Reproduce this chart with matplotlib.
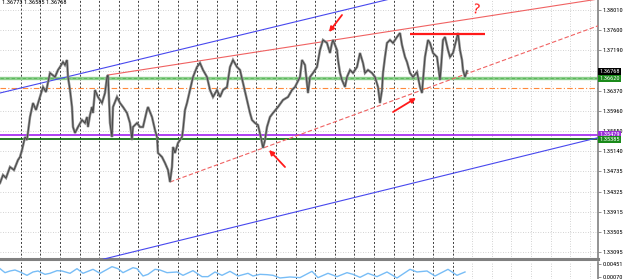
import matplotlib
matplotlib.use("Agg")
import matplotlib.pyplot as plt
import matplotlib.transforms as mtransforms
from matplotlib import font_manager

# ---------------- data ----------------
header_text = "1.36773 1.36585 1.36768"

bar_x = [0, 3, 6, 10, 14, 18, 20, 22, 25, 27, 30, 33, 36, 40, 43, 46, 50, 55, 58, 60,
         63, 65, 67, 68, 70, 72, 73, 75, 78, 82, 85, 87, 88, 90, 92, 93, 95, 98, 102, 105,
         107, 108, 110, 112, 113, 117, 120, 123, 127, 130, 132, 133, 137, 140, 143, 147, 148, 152, 155, 157,
         158, 162, 165, 168, 170, 172, 173, 175, 178, 182, 183, 185, 187, 190, 193, 197, 200, 203, 207, 210,
         213, 217, 220, 223, 227, 230, 233, 237, 240, 243, 247, 250, 252, 255, 258, 261, 263, 265, 267, 270,
         273, 278, 283, 288, 292, 295, 300, 302, 305, 308, 310, 313, 317, 320, 323, 327, 330, 332, 333, 337,
         338, 340, 342, 345, 347, 350, 353, 357, 360, 363, 365, 368, 372, 375, 378, 380, 382, 383, 385, 387,
         390, 393, 397, 400, 402, 405, 407, 410, 413, 417, 420, 422, 423, 425, 428, 430, 433, 437, 440, 441,
         443, 445, 448, 450, 453, 457, 458, 460, 462, 463, 465, 467]
close = [1.34498, 1.34660, 1.34600, 1.34823, 1.34762, 1.34965, 1.35026, 1.35168, 1.35432, 1.35371,
         1.35838, 1.36122, 1.35980, 1.36244, 1.36447, 1.36345, 1.36731, 1.36650, 1.36792, 1.36853,
         1.36954, 1.36893, 1.36995, 1.36650, 1.36386, 1.36041, 1.35635, 1.35513, 1.35635, 1.35777,
         1.35716, 1.35838, 1.35635, 1.35878, 1.36041, 1.35919, 1.36386, 1.36244, 1.36122, 1.36325,
         1.36650, 1.36690, 1.35716, 1.35432, 1.36041, 1.36244, 1.36122, 1.36041, 1.35919, 1.35716,
         1.35371, 1.35635, 1.35716, 1.35635, 1.35635, 1.35980, 1.36041, 1.35838, 1.35574, 1.35432,
         1.35107, 1.35026, 1.34904, 1.34762, 1.34518, 1.34823, 1.35229, 1.35107, 1.35310, 1.35432,
         1.35574, 1.35980, 1.36122, 1.36386, 1.36650, 1.36853, 1.36934, 1.36792, 1.36650, 1.36386,
         1.36244, 1.36386, 1.36244, 1.36386, 1.36447, 1.36853, 1.36995, 1.36853, 1.36792, 1.36528,
         1.36183, 1.35919, 1.35777, 1.35716, 1.35675, 1.35412, 1.35209, 1.35371, 1.35635, 1.35838,
         1.35919, 1.36041, 1.36183, 1.36244, 1.36386, 1.36447, 1.36650, 1.36995, 1.36893, 1.36325,
         1.36650, 1.36731, 1.36853, 1.37198, 1.37401, 1.37340, 1.37137, 1.37340, 1.37401, 1.37198,
         1.36995, 1.36731, 1.36589, 1.36447, 1.36650, 1.36792, 1.36731, 1.36853, 1.37137, 1.36934,
         1.36731, 1.36792, 1.36731, 1.36650, 1.36447, 1.36122, 1.36386, 1.36731, 1.37056, 1.37340,
         1.37401, 1.37340, 1.37462, 1.37543, 1.37299, 1.37056, 1.36954, 1.36731, 1.36650, 1.36751,
         1.36447, 1.36325, 1.36589, 1.37056, 1.37401, 1.37340, 1.37137, 1.37056, 1.36589, 1.36833,
         1.37401, 1.37462, 1.37198, 1.37056, 1.37137, 1.37462, 1.37543, 1.37198, 1.36995, 1.36792,
         1.36650, 1.36768]

ind_x = [0, 5, 10, 15, 20, 27, 33, 38, 45, 50, 57, 62, 70, 77, 83, 93, 100, 112, 118, 123,
         133, 137, 143, 148, 155, 160, 167, 177, 183, 193, 202, 208, 215, 222, 230, 238, 248, 253, 260, 267,
         273, 280, 290, 300, 312, 318, 328, 337, 347, 353, 360, 368, 377, 387, 397, 410, 417, 427, 435, 448,
         457, 465]
ind_val = [0.00314, 0.00197, 0.00246, 0.00275, 0.00217, 0.00119, 0.00217, 0.00246, 0.00148, 0.00178,
           0.00256, 0.00246, 0.00178, 0.00314, 0.00178, 0.00295, 0.00178, 0.00373, 0.00314, 0.00197,
           0.00343, 0.00314, 0.00099, 0.00148, 0.00295, 0.00275, 0.00197, 0.00217, 0.00119, 0.00256,
           0.00080, 0.00080, 0.00217, 0.00119, 0.00236, 0.00099, 0.00178, 0.00099, 0.00148, 0.00138,
           0.00119, 0.00041, 0.00070, 0.00051, 0.00236, 0.00051, 0.00178, 0.00080, 0.00197, 0.00148,
           0.00060, 0.00178, 0.00080, 0.00217, 0.00041, 0.00295, 0.00217, 0.00246, 0.00099, 0.00295,
           0.00119, 0.00217]

price_ticks = [1.38010, 1.37600, 1.37190, 1.36780, 1.36370, 1.35960, 1.35550, 1.35140,
               1.34735, 1.34325, 1.33915, 1.33505, 1.33095]
price_tick_labels = ["1.38010", "1.37600", "1.37190", "", "1.36370", "1.35960", "1.35550",
                     "1.35140", "1.34735", "1.34325", "1.33915", "1.33505", "1.33095"]
ind_ticks = [0.00451, 0.00070]
ind_tick_labels = ["0.00451", "0.00070"]

# trend lines: (x0, p0, x1, p1)
upper_red = (108, 1.36690, 598, 1.38232)
lower_red = (170, 1.34518, 598, 1.37689)
upper_blue = (0, 1.36325, 400, 1.38282)
lower_blue = (100, 1.32935, 598, 1.35418)

# horizontal levels
level_green_band = 1.36620
level_orange = 1.36427
level_purple = 1.35479
level_darkgreen = 1.35385
last_price = 1.36768
red_mark_level = 1.37523
red_mark_x = (410, 485)

# boxed price labels: (price, text, facecolor)
boxes = [(last_price, "1.36768", "#000000"),
         (level_green_band, "1.36620", "#1a8a1a"),
         (level_purple, "1.35479", "#9b30d8"),
         (level_darkgreen, "1.35385", "#1a8a1a")]

# ---------------- font ----------------
narrow = "DejaVu Sans"
for cand in ["Liberation Sans Narrow", "Roboto Condensed", "Open Sans Condensed", "Liberation Sans"]:
    try:
        font_manager.findfont(cand, fallback_to_default=False)
        narrow = cand
        break
    except Exception:
        pass
fs = 4.6 if narrow != "DejaVu Sans" else 4.0

# ---------------- figure ----------------
W, H = 625, 279
fig = plt.figure(figsize=(W / 100, H / 100), dpi=100)
fig.patch.set_facecolor("white")
ax = fig.add_axes([0, 20 / H, 598 / W, 259 / H])
axi = fig.add_axes([0, 0, 598 / W, 17 / H])

for a in (ax, axi):
    a.set_xlim(0, 598)
    for s in ("top", "left"):
        a.spines[s].set_visible(False)
    a.spines["right"].set_color("#808080")
    a.spines["right"].set_linewidth(1.2)
    a.set_xticks([])
    a.yaxis.tick_right()
    a.tick_params(axis="y", length=2, width=0.6, color="#808080", labelsize=fs, pad=1.2)

ax.spines["bottom"].set_color("#808080")
ax.spines["bottom"].set_linewidth(2.2)
axi.spines["bottom"].set_visible(False)

ax.set_ylim(1.32955, 1.38213)
axi.set_ylim(0.00011, 0.00510)
ax.set_yticks(price_ticks)
ax.set_yticklabels(price_tick_labels, family=narrow)
axi.set_yticks(ind_ticks)
axi.set_yticklabels(ind_tick_labels, family=narrow)

# grid
for v in price_ticks:
    ax.axhline(v, color="#c4c4c4", lw=0.6, ls=(0, (1, 2)), zorder=1)
gx = 20.7
while gx < 598:
    if gx < 465:
        kw = dict(color="#3c3c3c", lw=0.7, ls=(0, (2, 2)))
    else:
        kw = dict(color="#c4c4c4", lw=0.6, ls=(0, (1, 2)))
    ax.axvline(gx, zorder=1, **kw)
    axi.axvline(gx, zorder=1, **kw)
    gx += 19.63

# levels
ax.axhline(level_green_band, color="#8fd08f", lw=2.4, zorder=2)
ax.axhline(level_green_band, color="#5cb85c", lw=0.8, ls=(0, (3, 2)), zorder=2)
ax.axhline(level_orange, color="#ff8a3d", lw=0.8, ls=(0, (5, 2, 1, 2)), zorder=2)
ax.axhline(level_purple, color="#a020f0", lw=1.2, zorder=2)
ax.axhline(level_darkgreen, color="#006400", lw=1.2, zorder=2)

# trend lines
for (x0, p0, x1, p1), c, ls, lw in [
        (upper_red, "#f06262", "-", 0.8),
        (lower_red, "#f06262", (0, (4, 2)), 0.8),
        (upper_blue, "#4848ee", "-", 0.8),
        (lower_blue, "#4848ee", "-", 0.8)]:
    ax.plot([x0, x1], [p0, p1], color=c, ls=ls, lw=lw, zorder=3)

# price
ax.plot(bar_x, close, color="#8a8a8a", lw=1.8, zorder=4, solid_joinstyle="miter")
ax.plot(bar_x, close, color="#404040", lw=0.6, zorder=4)

# indicator
axi.plot(ind_x, ind_val, color="#78bdf6", lw=1.0, zorder=3)

# red hand-drawn annotations
ax.hlines(red_mark_level, red_mark_x[0], red_mark_x[1], color="#ff1a1a", lw=1.6, zorder=5)


def fp(x, y):
    return (x / W, 1 - y / H)


for tail, head in [((342, 15), (329, 32)), ((393, 112), (416, 98)), ((285, 167), (269, 150))]:
    ax.annotate("", xy=fp(*head), xytext=fp(*tail), xycoords="figure fraction",
                textcoords="figure fraction",
                arrowprops=dict(arrowstyle="-|>", color="#ff1a1a", lw=1.3,
                                mutation_scale=7, shrinkA=0, shrinkB=0), zorder=6)
fig.text(*fp(476, 10), "?", color="#ff1a1a", fontsize=10, ha="center", va="center",
         rotation=-10)

# boxed labels on price axis
trans = mtransforms.blended_transform_factory(ax.transAxes, ax.transData)
for p, txt, fc in boxes:
    ax.text(1.0 + 1.5 / 598, p, txt, transform=trans, ha="left", va="center", fontsize=fs,
            family=narrow, color="white", clip_on=False, zorder=10,
            bbox=dict(boxstyle="square,pad=0.18", fc=fc, ec="none"))

# header
fig.text(*fp(2, 3), header_text, fontsize=fs, family=narrow, color="#000000",
         ha="left", va="center")

fig.savefig("out.png", dpi=100)
